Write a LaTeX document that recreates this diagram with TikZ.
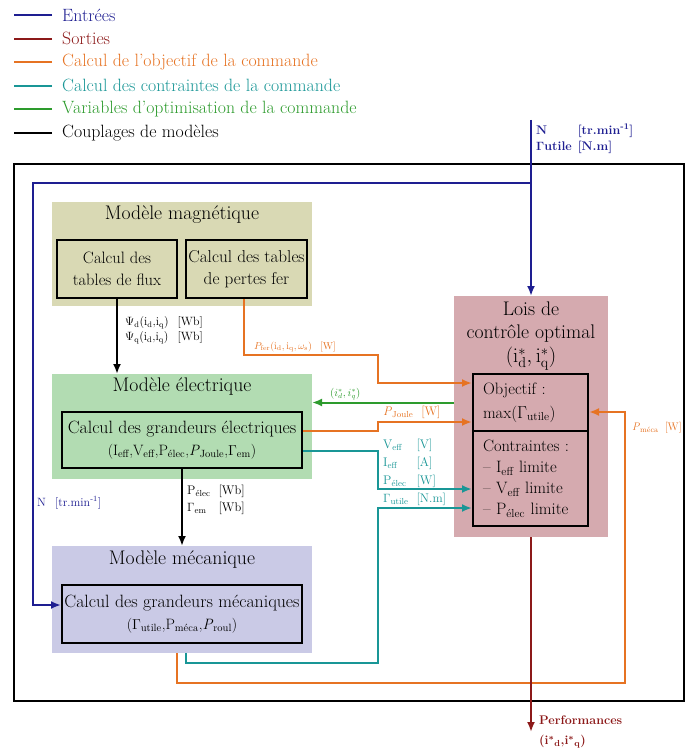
\documentclass[tikz,border=0pt]{standalone}
\usepackage{xcolor}
\usepackage{tikz}
\usetikzlibrary{arrows.meta, positioning, calc}

\definecolor{entree}{RGB}{30,30,145}
\definecolor{sortie}{RGB}{140,25,25}
\definecolor{objcol}{RGB}{230,115,35}
\definecolor{contcol}{RGB}{25,150,150}
\definecolor{optcol}{RGB}{45,155,45}
\definecolor{magfill}{RGB}{217,217,180}
\definecolor{elecfill}{RGB}{178,220,178}
\definecolor{mecafill}{RGB}{202,202,230}
\definecolor{loisfill}{RGB}{213,170,175}

\begin{document}
\begin{tikzpicture}[x=1pt, y=-1pt,
    modelbox/.style={inner sep=0, outer sep=0},
    calcbox/.style={draw=black, line width=2pt, align=center, inner sep=0, font=\fontsize{17.8}{22}\selectfont},
    titletext/.style={inner sep=0, align=center, font=\fontsize{19.7}{23}\selectfont},
    lbl/.style={anchor=west, inner sep=0, font=\fontsize{12}{17}\selectfont},
    wire/.style={line width=2pt},
    arr/.style={-{Latex[length=10pt,width=8pt]}}]
    \useasboundingbox (0,0) rectangle (696,749);

    % Legend
    \foreach \col/\txt [count=\i] in {entree/Entrées, sortie/Sorties,
        objcol/Calcul de l'objectif de la commande, contcol/Calcul des contraintes de la commande,
        optcol/Variables d'optimisation de la commande, black/Couplages de modèles} {
        \node[lbl, text=\col, font=\fontsize{17.8}{18}\selectfont] (leg\i) at (62, {15+23.6*(\i-1)}) {\txt};
        \draw[wire, \col] ([xshift=-10pt]leg\i.west) -- ++(-38,0);
    }

    % Outer frame
    \node[draw, line width=2.2pt, minimum width=670, minimum height=537, inner sep=0] (frame) at (349,432.5) {};

    % Magnetic model
    \node[modelbox, fill=magfill, minimum width=260, minimum height=104] (mag) at (182,254) {};
    \node[titletext] (magtitle) at (182,215) {Modèle magnétique};
    \node[calcbox, minimum width=120, minimum height=58, font=\fontsize{16.5}{22}\selectfont] (calcflux) at (117,269) {Calcul des\\tables de flux};
    \node[calcbox, minimum width=121, minimum height=58, font=\fontsize{17.2}{22}\selectfont] (calcfer) at (246.5,269) {Calcul des tables\\de pertes fer};

    % Electric model
    \node[modelbox, fill=elecfill, minimum width=260, minimum height=105] (elec) at (182,426.5) {};
    \node[titletext] (electitle) at (182,387) {Modèle électrique};
    \node[calcbox, minimum width=240, minimum height=56] (calcelec) at (182,440) {Calcul des grandeurs électriques\\{\fontsize{15}{22}\selectfont(I\textsubscript{eff},V\textsubscript{eff},P\textsubscript{élec},\textit{P}\textsubscript{Joule},$\Gamma$\textsubscript{em})}};

    % Mechanical model
    \node[modelbox, fill=mecafill, minimum width=260, minimum height=107] (meca) at (182,599.5) {};
    \node[titletext] (mecatitle) at (182,560) {Modèle mécanique};
    \node[calcbox, minimum width=240, minimum height=58] (calcmeca) at (182,614) {Calcul des grandeurs mécaniques\\{\fontsize{15}{22}\selectfont($\Gamma$\textsubscript{utile},P\textsubscript{méca},\textit{P}\textsubscript{roul})}};

    % Optimal control laws
    \node[modelbox, fill=loisfill, minimum width=154, minimum height=241] (lois) at (531,416.5) {};
    \node[titletext] (loistitle) at (531,322) {Lois de\\contrôle optimal};
    \node[titletext] (loisvar) at (531,359) {$(\mathrm{i}^{*}_{\mathrm{d}},\mathrm{i}^{*}_{\mathrm{q}})$};
    \node[calcbox, align=left, minimum width=115, minimum height=57, text width=95, inner xsep=10pt, font=\fontsize{16.5}{24}\selectfont] (obj) at (530.5,402.5) {Objectif :\\max($\Gamma$\textsubscript{utile})};
    \node[calcbox, align=left, minimum width=115, minimum height=95, text width=95, inner xsep=10pt, font=\fontsize{16.5}{21}\selectfont] (cont) at (530.5,478.5) {Contraintes :\\-- I\textsubscript{eff} limite\\-- V\textsubscript{eff} limite\\-- P\textsubscript{élec} limite};

    % Inputs
    \coordinate (Ntop) at (531,120);
    \coordinate (Nsplit) at (531,183);
    \coordinate (Nleft) at (33,183);
    \coordinate (Nin) at (33,605);
    \draw[wire, entree, arr] (Ntop) -- (lois.north);
    \draw[wire, entree, arr] (Nsplit) -- (Nleft) -- (Nin) -- (calcmeca.west |- Nin);
    \node[lbl, entree, font=\fontsize{12.5}{16}\selectfont\bfseries\boldmath] (Ninlbl) at (536,139) {\begin{tabular}{@{}l@{\hspace{6pt}}l@{}}N & [tr.min\textsuperscript{-1}]\\ $\Gamma$utile & [N.m]\end{tabular}};
    \node[lbl, entree] (Nlbl) at (37,503) {N\hspace{9pt}[tr.min\textsuperscript{-1}]};

    % Model couplings
    \draw[wire, arr] (calcflux.south) -- (elec.north -| calcflux.south);
    \draw[wire, arr] (calcelec.south) -- (meca.north -| calcelec.south);
    \node[lbl, font=\fontsize{12}{15}\selectfont] (psilbl) at (125,330) {\begin{tabular}{@{}l@{\hspace{9pt}}l@{}}$\Psi$\textsubscript{d}(i\textsubscript{d},i\textsubscript{q}) & [Wb]\\ $\Psi$\textsubscript{q}(i\textsubscript{d},i\textsubscript{q}) & [Wb]\end{tabular}};
    \node[lbl, font=\fontsize{12.5}{17}\selectfont] (pelelbl) at (187,500) {\begin{tabular}{@{}l@{\hspace{8pt}}l@{}}P\textsubscript{élec} & [Wb]\\ $\Gamma$\textsubscript{em} & [Wb]\end{tabular}};

    % Objective
    \coordinate (fer1) at (244,355);
    \coordinate (fer2) at (378,355);
    \coordinate (fer3) at (378,383);
    \draw[wire, objcol, arr] (calcfer.south -| fer1) -- (fer1) -- (fer2) -- (fer3) -- (obj.west |- fer3);
    \node[lbl, objcol, font=\fontsize{10}{12}\selectfont] (ferlbl) at (254,347) {$P_{\mathrm{fer}}(\mathrm{i}_{\mathrm{d}},\mathrm{i}_{\mathrm{q}},\omega_{\mathrm{s}})$\hspace{8pt}[W]};
    \coordinate (joule1) at (378,431);
    \coordinate (joule2) at (378,422);
    \draw[wire, objcol, arr] (calcelec.east |- joule1) -- (joule1) -- (joule2) -- (obj.west |- joule2);
    \node[lbl, objcol, font=\fontsize{12.5}{15}\selectfont] (joulelbl) at (383,412) {\textit{P}\textsubscript{Joule}\hspace{8pt}[W]};
    \coordinate (meca1) at (177,683);
    \coordinate (meca2) at (625,683);
    \coordinate (meca3) at (625,412);
    \draw[wire, objcol, arr] (meca.south -| meca1) -- (meca1) -- (meca2) -- (meca3) -- (obj.east |- meca3);
    \node[lbl, objcol, font=\fontsize{11}{13}\selectfont] (pmecalbl) at (632,428) {\textit{P}\textsubscript{méca}\hspace{6pt}[W]};

    % Constraints
    \coordinate (cont1) at (378,451);
    \coordinate (cont2) at (378,489);
    \draw[wire, contcol, arr] (calcelec.east |- cont1) -- (cont1) -- (cont2) -- (cont.west |- cont2);
    \coordinate (cont3) at (186,663);
    \coordinate (cont4) at (378,663);
    \coordinate (cont5) at (378,508);
    \draw[wire, contcol, arr] (meca.south -| cont3) -- (cont3) -- (cont4) -- (cont5) -- (cont.west |- cont5);
    \node[lbl, contcol, font=\fontsize{12.5}{18}\selectfont] (contlbl) at (383,472) {\begin{tabular}{@{}l@{\hspace{8pt}}l@{}}V\textsubscript{eff} & [V]\\ I\textsubscript{eff} & [A]\\ P\textsubscript{élec} & [W]\\ $\Gamma$\textsubscript{utile} & [N.m]\end{tabular}};

    % Optimisation variables
    \draw[wire, optcol, arr] (lois.west |- obj.west) -- (elec.east |- obj.west);
    \node[lbl, optcol, font=\fontsize{10.5}{12}\selectfont] (optlbl) at (330,394) {$(i^{*}_{d},i^{*}_{q})$};

    % Outputs
    \coordinate (perf) at (531,732);
    \draw[wire, sortie, arr] (lois.south) -- (perf);
    \node[lbl, sortie, align=left, font=\fontsize{12.5}{20}\selectfont\bfseries\boldmath] (perflbl) at (539,732) {Performances\\(i$^{*}$\textsubscript{d},i$^{*}$\textsubscript{q})};
\end{tikzpicture}
\end{document}
